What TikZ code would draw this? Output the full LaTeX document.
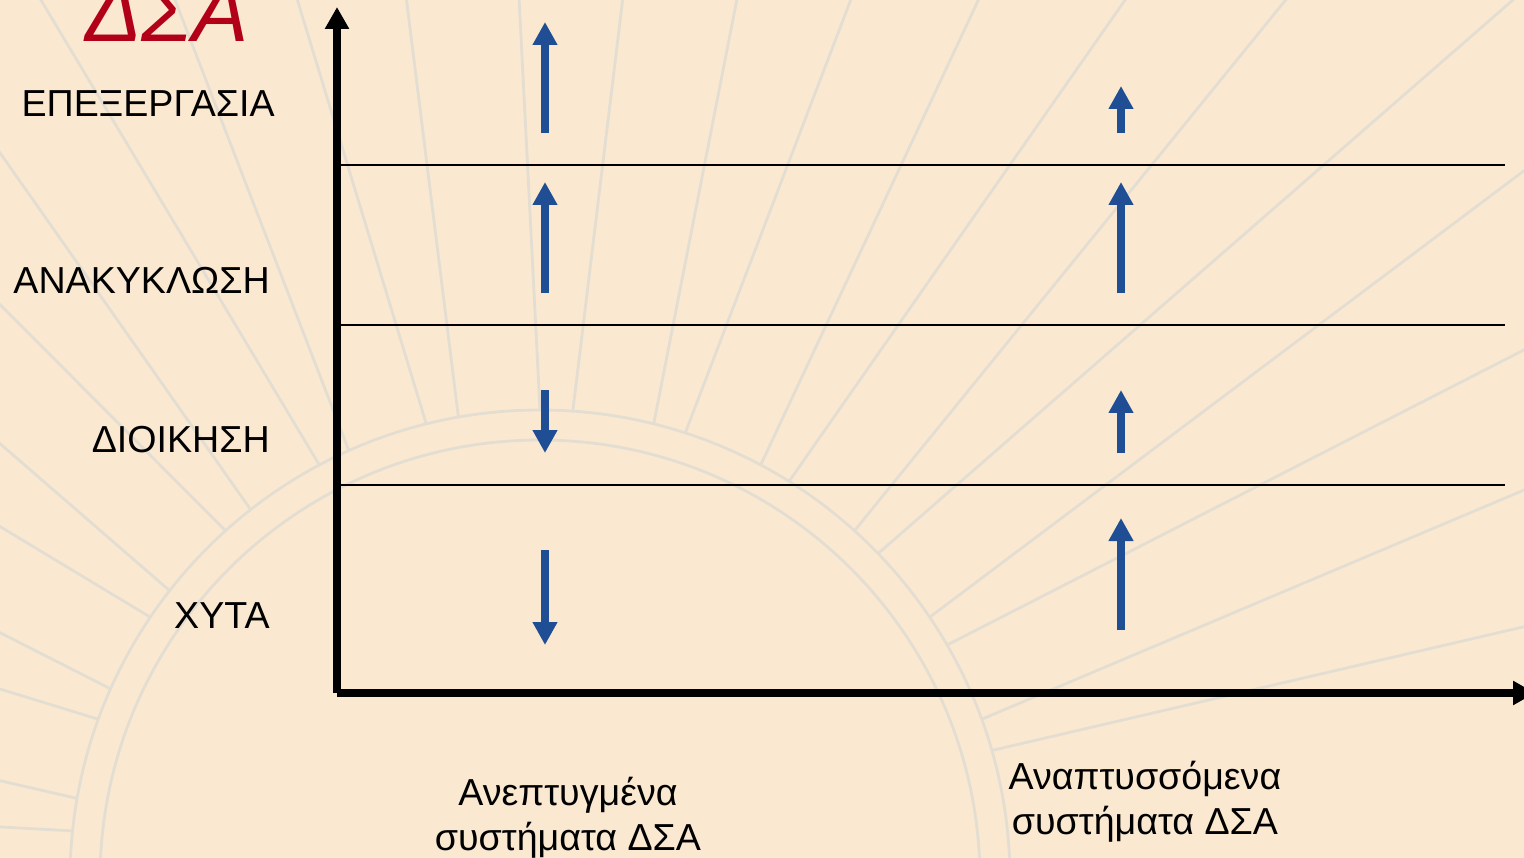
\documentclass[tikz,border=0pt]{standalone}
\usepackage{fontspec}
\setmainfont{Liberation Sans}
\usetikzlibrary{arrows.meta}
\definecolor{bgbeige}{RGB}{250,233,208}
\definecolor{sunline}{RGB}{228,222,210}
\definecolor{barblue}{RGB}{31,78,148}
\definecolor{titlered}{RGB}{178,0,24}

\begin{document}
\begin{tikzpicture}[x=0.02cm,y=-0.02cm,
	lvl/.style={anchor=east,inner sep=0pt,font=\fontsize{21.4}{25.5}\selectfont},
	sys/.style={anchor=north,inner sep=0pt,align=center,font=\fontsize{21.4}{25.5}\selectfont},
	trend/.style={barblue,line width=4.7pt,-{Triangle[width=0.47cm,length=0.46cm]}},
	axis/.style={black,line width=4pt,-{Triangle[width=0.46cm,length=0.44cm]}}]
		\def\up{1}
		\useasboundingbox (0,0) rectangle (1524,858);
		\clip (0,0) rectangle (1524,858);
		\fill [bgbeige] (0,0) rectangle (1524,858);
		% faint sun in the background
		\begin{scope}[sunline,line width=1.6pt,shift={(540,880)}]
			\draw (0,0) circle (440) (0,0) circle (470);
			\foreach \a in {-172,-158,...,-10}
				\draw (\a-2:470) -- (\a-4:1500)
					  (\a+2:470) -- (\a+4:1500);
		\end{scope}
		% levels
		\draw [line width=1pt] (340,165) -- (1505,165)
			  (340,325) -- (1505,325)
			  (340,485) -- (1505,485);
		\coordinate (o) at (337,693);
		\draw [axis] (o) -- (337,7);
		\draw [axis] (o) -- (1535,693);
		\node [lvl] (proc) at (275,104) {ΕΠΕΞΕΡΓΑΣΙΑ};
		\node [lvl] (recy) at (270,280) {ΑΝΑΚΥΚΛΩΣΗ};
		\node [lvl] (mgmt) at (270,440) {ΔΙΟΙΚΗΣΗ};
		\node [lvl] (land) at (270,616) {ΧΥΤΑ};
		\node [anchor=base,inner sep=0pt,text=titlered,
			  font=\fontsize{48}{50}\selectfont\itshape] (title) at (167,42) {ΔΣΑ};
		% developed systems
		\draw [trend] (545,133) -- (545,22);
		\draw [trend] (545,293) -- (545,182);
		\draw [trend] (545,390) -- (545,453);
		\draw [trend] (545,550) -- (545,645);
		% developing systems
		\draw [trend] (1121,133) -- (1121,86);
		\draw [trend] (1121,293) -- (1121,182);
		\draw [trend] (1121,453) -- (1121,390);
		\draw [trend] (1121,630) -- (1121,518);
		\node [sys] (dev) at (568,777) {Ανεπτυγμένα\\συστήματα ΔΣΑ};
		\node [sys] (devg) at (1145,761) {Αναπτυσσόμενα\\συστήματα ΔΣΑ};
	\end{tikzpicture}
\end{document}
